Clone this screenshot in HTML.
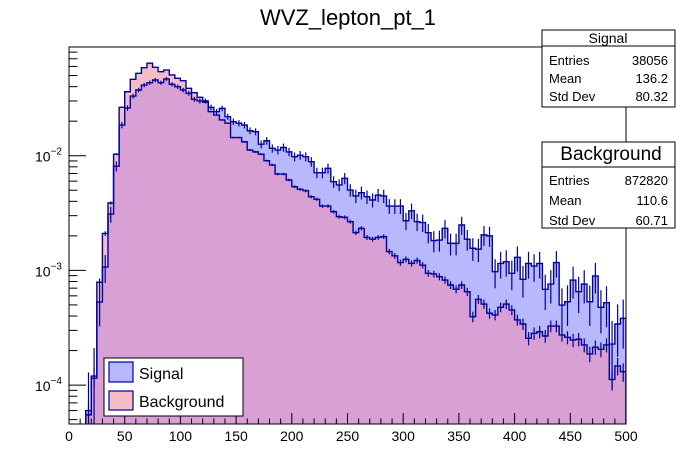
<!DOCTYPE html>
<html><head><meta charset="utf-8"><style>
html,body{margin:0;padding:0;background:#fff;}
svg{display:block;font-family:"Liberation Sans",Arial,sans-serif;}
</style></head><body>
<svg id="chart" width="696" height="472" viewBox="0 0 696 472">
<defs>
<clipPath id="frameClip"><rect x="69" y="47" width="557" height="377"/></clipPath>
</defs>
<rect width="696" height="472" fill="#fff"/>
<text x="348" y="25" font-size="22" text-anchor="middle">WVZ_lepton_pt_1</text>
<g id="plot" clip-path="url(#frameClip)"></g>
<rect x="69" y="47" width="557" height="377" fill="none" stroke="#000" stroke-width="1"/>
<g id="axes"></g>

<g>
<rect x="542" y="30" width="133" height="77" fill="#fff" stroke="#000"/>
<line x1="542" y1="46" x2="675" y2="46" stroke="#000"/>
<text x="608" y="43" font-size="14" text-anchor="middle">Signal</text>
<text x="549" y="65" font-size="13">Entries</text><text x="668" y="65" font-size="13" text-anchor="end">38056</text>
<text x="549" y="83" font-size="13">Mean</text><text x="668" y="83" font-size="13" text-anchor="end">136.2</text>
<text x="549" y="101" font-size="13">Std Dev</text><text x="668" y="101" font-size="13" text-anchor="end">80.32</text>
</g>
<g>
<rect x="542" y="142" width="133" height="86" fill="#fff" stroke="#000"/>
<line x1="542" y1="167" x2="675" y2="167" stroke="#000"/>
<text x="611" y="160" font-size="19" text-anchor="middle">Background</text>
<text x="549" y="185" font-size="13">Entries</text><text x="668" y="185" font-size="13" text-anchor="end">872820</text>
<text x="549" y="205" font-size="13">Mean</text><text x="668" y="205" font-size="13" text-anchor="end">110.6</text>
<text x="549" y="225" font-size="13">Std Dev</text><text x="668" y="225" font-size="13" text-anchor="end">60.71</text>
</g>
<g>
<rect x="104" y="358" width="139" height="58" fill="#fff" stroke="#000"/>
<g>
<rect x="109" y="362" width="24" height="20" fill="#b8b8ff" stroke="#000099" stroke-width="1.2"/>
<text x="139" y="379" font-size="16">Signal</text>
</g>
<g>
<rect x="109" y="391" width="24" height="19" fill="#f6bcc8" stroke="#000099" stroke-width="1.2"/>
<text x="139" y="407" font-size="16">Background</text>
</g>
</g>
</svg>
<script>
const binEdges = [0, 500];
const nBins = 100;
const signalValues = [0,0,0,6e-5,1.15e-4,5.3e-4,1.07e-3,3.1e-3,8.1e-3,
0.0185,0.0261,0.0331,0.0374,0.0413,0.0433,0.0457,0.0433,0.0467,0.0419,0.0400,0.0374,0.0350,0.0310,0.0300,0.0300,
0.0264,0.0242,
0.0259,0.0219,0.0198,0.0192,0.0185,0.0165,0.0162,0.0126,0.0135,0.0116,0.0112,0.0118,0.0108,0.0098,
0.0101,0.0098,0.00887,0.00711,0.00711,0.00776,0.00593,0.00556,0.00635,0.00502,
0.00446,0.00476,0.00439,0.00411,0.00454,0.00446,0.00364,0.00364,0.00364,0.00271,
0.00331,0.00266,0.00261,0.00213,0.00182,0.00184,0.00233,0.00172,0.00172,0.00249,
0.00187,0.00156,0.00153,0.00204,0.00200,0.000975,0.00115,0.00119,0.000944,0.00130,
0.000836,0.00115,0.00109,0.00115,0.000684,0.000760,0.00117,0.000499,0.000533,0.000824,
0.000652,0.000760,0.000533,0.000894,0.000477,0.000523,0.000228,0.000341,0.000382];
const backgroundValues = [0,0,0,5.5e-5,1.2e-4,7.9e-4,2.1e-3,3.87e-3,1.03e-2,
0.0264,0.0361,0.0463,0.0523,0.0585,0.0640,0.0590,0.0540,0.0558,0.0506,0.0473,0.0451,0.0387,0.0354,0.0323,0.0293,
0.0242,0.0226,
0.0205,0.0192,0.0144,0.0144,0.0132,0.0112,0.0108,0.0103,0.00904,0.00830,0.00692,0.00692,0.00614,0.00537,
0.00509,0.00495,0.00439,0.00417,0.00364,0.00364,0.00325,0.00294,0.00290,0.00266,
0.00213,0.00233,0.00194,0.00187,0.00194,0.00197,0.00146,0.00134,0.00117,0.00125,
0.00115,0.00122,0.00111,0.000944,0.000931,0.000881,0.000824,0.000746,0.000684,0.000746,
0.000652,0.000395,0.000560,0.000509,0.000423,0.000409,0.000477,0.000509,0.000452,0.000370,
0.000341,0.000256,0.000283,0.000292,0.000268,0.000327,0.000327,0.000274,0.000261,0.000247,
0.000251,0.000224,0.000187,0.000214,0.000205,0.000224,0.000112,0.000147,0.000131];
const xTickLabels = ["0","50","100","150","200","250","300","350","400","450","500"];
const yDecades = [-4,-3,-2];

const X0=69, X1=626, YT=47, YB=424;
const NS='http://www.w3.org/2000/svg';
function xScale(v){return X0+(v-binEdges[0])/(binEdges[1]-binEdges[0])*(X1-X0);}
function yScale(v){ if(v<=0) return YB+20; return 155.7-(Math.log10(v)+2)*114.7;}
function mk(tag,attrs,parent){const e=document.createElementNS(NS,tag);for(const k in attrs)e.setAttribute(k,attrs[k]);parent.appendChild(e);return e;}
const plot=document.getElementById('plot');
const axes=document.getElementById('axes');
const bw=(binEdges[1]-binEdges[0])/nBins;

function stepPath(vals){
  let d='M'+xScale(binEdges[0])+','+(YB+20);
  for(let i=0;i<nBins;i++){
    const y=yScale(vals[i]);
    d+=' L'+xScale(binEdges[0]+i*bw)+','+y+' L'+xScale(binEdges[0]+(i+1)*bw)+','+y;
  }
  return d+' L'+xScale(binEdges[1])+','+(YB+20)+' Z';
}
function fill(vals,color,name){
  const f=mk('path',{d:stepPath(vals),fill:color,stroke:'none'},plot);
  
  
}
fill(backgroundValues,'#f6bcc8','background-hist-fill');
fill(signalValues,'#b8b8ff','signal-hist-fill');
fill(signalValues.map(function(v,i){return Math.min(v,backgroundValues[i]);}),'#d8a0d4','overlap-fill');

function lines(vals,name,errK){
  const l=mk('path',{d:stepPath(vals),fill:'none',stroke:'#000099','stroke-width':1.4},plot);
  
  
  for(let i=0;i<nBins;i++){
    const v=vals[i]; if(v<=0) continue;
    const r=errK/Math.sqrt(v);
    const xc=xScale(binEdges[0]+(i+0.5)*bw);
    const lo=v*(1-r);
    const e=mk('line',{x1:xc,x2:xc,y1:yScale(v*(1+r)),y2:lo>0?yScale(lo):YB+20,stroke:'#000099','stroke-width':1.2},plot);
    
    
  }
}
lines(backgroundValues,'background-hist',0.0021);
lines(signalValues,'signal-hist',0.0089);

for(let v=0;v<=500;v+=10){
  const x=xScale(v); const major=(v%50===0);
  const t=mk('line',{x1:x,x2:x,y1:YB,y2:YB-(major?11:5.5),stroke:'#000'},axes);
  
  
}
xTickLabels.forEach(function(s){
  const t=mk('text',{x:xScale(parseFloat(s)),y:441,'font-size':14,'text-anchor':'middle'},axes);
  t.textContent=s;
  
  
});
for(let dcd=-5;dcd<=-1;dcd++){
  for(let m=1;m<=9;m++){
    const v=m*Math.pow(10,dcd); const y=yScale(v);
    if(y<YT||y>YB) continue;
    const t=mk('line',{x1:X0,x2:X0+(m===1?17:8.5),y1:y,y2:y,stroke:'#000'},axes);
    
    
  }
}
yDecades.forEach(function(p){
  const y=yScale(Math.pow(10,p));
  const t=mk('text',{x:35,y:y+6,'font-size':14},axes);
  t.textContent='10';
  const s=mk('tspan',{dy:-7,'font-size':10},t);
  s.textContent='\u2212'+(-p);
  
  
});
</script>
</body></html>
